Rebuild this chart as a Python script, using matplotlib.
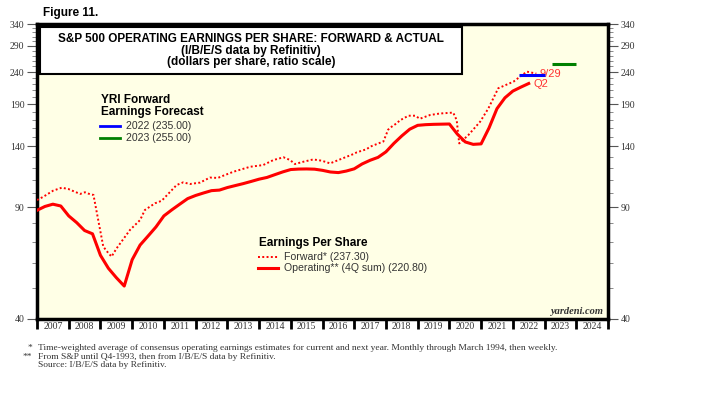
import numpy as np
import matplotlib
matplotlib.use("Agg")
import matplotlib.pyplot as plt
from matplotlib.lines import Line2D
from matplotlib.patches import Rectangle
from matplotlib.ticker import FixedLocator, FixedFormatter, NullFormatter

# operating EPS, 4Q trailing sum, quarterly (2006Q4 .. 2022Q2)
op_year = np.arange(2007.0, 2022.51, 0.25)
op_eps = [88, 90.5, 92, 90.8, 84.5, 80.5, 76, 74.2,
          63.5, 57.8, 54, 50.8, 61.5, 68.4, 73, 78,
          84.5, 88.3, 92, 95.8, 98, 99.8, 101.5, 101.9,
          103.8, 105.3, 106.8, 108.5, 110.3, 111.7, 114, 116.3,
          118.3, 118.7, 118.8, 118.6, 117.6, 116.2, 115.7, 117,
          118.9, 123.2, 126.5, 129.2, 134.5, 143, 151, 158.5,
          163, 163.8, 164.2, 164.4, 164.6, 153, 144.5, 142,
          142.5, 160, 184, 199, 209, 215, 220.8]

# forward EPS
fwd_year = [2007.00, 2007.20, 2007.51, 2007.78, 2007.99, 2008.14, 2008.36, 2008.51,
            2008.67, 2008.78, 2008.93, 2009.09, 2009.25, 2009.35, 2009.51, 2009.93,
            2010.25, 2010.40, 2010.72, 2010.93, 2011.40, 2011.61, 2011.82, 2012.14,
            2012.45, 2012.70, 2012.87, 2013.19, 2013.72, 2014.13, 2014.45, 2014.77,
            2014.98, 2015.13, 2015.40, 2015.71, 2015.98, 2016.24, 2016.55, 2016.97,
            2017.08, 2017.39, 2017.50, 2017.92, 2018.07, 2018.18, 2018.34, 2018.44,
            2018.71, 2018.92, 2019.07, 2019.39, 2019.70, 2020.12, 2020.23, 2020.31,
            2020.60, 2020.97, 2021.23, 2021.54, 2022.02, 2022.44, 2022.74]
fwd_eps = [94.8, 97.1, 101.5, 103.7, 102.7, 101.2, 99.1, 100.3,
           98.9, 98.4, 82, 67.6, 64.5, 62.9, 66.8, 76.3,
           82, 88.2, 92.6, 94.3, 105.7, 107.8, 106.5, 107.6,
           111.6, 111.3, 113.1, 116.4, 120.7, 122.2, 126.7, 129.3,
           126.7, 123.1, 125.2, 127.3, 126.1, 123.7, 127.3, 132.3,
           134, 137.1, 139.6, 145, 158, 161.4, 165.5, 169,
           174.8, 174.8, 171, 175.7, 177.6, 178.8, 169.3, 143,
           152, 167.4, 184.4, 213.3, 223.8, 240.7, 237.3]

# YRI forecasts
fc_2022 = 235.0
fc_2023 = 255.0

years = list(range(2007, 2025))
yticks = [40, 90, 140, 190, 240, 290, 340]

SANS = "Liberation Sans"
SERIF = "Liberation Serif"
W, H = 708, 400

fig = plt.figure(figsize=(7.08, 4.0), dpi=100)
ax = fig.add_axes([37 / W, 1 - 319 / H, (608 - 37) / W, (319 - 24) / H])
ax.set_facecolor("#ffffe6")


def px(x, y):
    return x / W, 1 - y / H


ax.plot(op_year, op_eps, color="red", lw=2.2, zorder=3)
ax.plot(fwd_year, fwd_eps, color="red", lw=1.4, ls=(0, (1, 1.2)), zorder=3)
ax.hlines(fc_2022, 2022.2, 2023.0, color="blue", lw=2.2, zorder=5)
ax.hlines(fc_2023, 2023.25, 2024.0, color="green", lw=2.2, zorder=5)
ax.text(2022.85, 237.3, "9/29", color="#ff3333", fontsize=8, family=SANS, va="center", zorder=4)
ax.text(2022.65, 220.8, "Q2", color="#ff3333", fontsize=8, family=SANS, va="center", zorder=4)

ax.set_yscale("log")
ax.set_ylim(40, 340)
ax.set_xlim(2007, 2025)

ax.yaxis.set_major_locator(FixedLocator(yticks))
ax.yaxis.set_minor_locator(FixedLocator([v for v in range(50, 340, 10) if v not in yticks]))
ax.yaxis.set_minor_formatter(NullFormatter())
ax.set_yticklabels([str(v) for v in yticks])
ax.tick_params(axis="y", which="major", length=7, width=0.8, color="#555555",
               labelsize=7, labelcolor="#333333", right=True, labelright=True, pad=2)
ax.tick_params(axis="y", which="minor", length=3.5, width=0.6, color="#777777", right=True)

ax.xaxis.set_major_locator(FixedLocator(years + [2025]))
ax.xaxis.set_major_formatter(NullFormatter())
ax.xaxis.set_minor_locator(FixedLocator([y + 0.5 for y in years]))
ax.xaxis.set_minor_formatter(FixedFormatter([str(y) for y in years]))
ax.tick_params(axis="x", which="major", length=7, width=2, color="black", top=False)
ax.tick_params(axis="x", which="minor", length=0, labelsize=7, labelcolor="#333333", pad=2)
for lab in ax.get_xticklabels(which="minor") + ax.get_yticklabels():
    lab.set_family(SERIF)

for s in ax.spines.values():
    s.set_linewidth(2.5)
    s.set_color("black")

# title box
fig.add_artist(Rectangle(px(40, 74), 422 / W, 47 / H, transform=fig.transFigure,
                         facecolor="white", edgecolor="black", lw=1.5, zorder=2))
fig.text(*px(251, 39), "S&P 500 OPERATING EARNINGS PER SHARE: FORWARD & ACTUAL",
         ha="center", va="center", fontsize=8.5, weight="bold", family=SANS, zorder=3)
fig.text(*px(251, 51), "(I/B/E/S data by Refinitiv)", ha="center", va="center",
         fontsize=8.5, weight="bold", family=SANS, zorder=3)
fig.text(*px(251, 62), "(dollars per share, ratio scale)", ha="center", va="center",
         fontsize=8.5, weight="bold", family=SANS, zorder=3)
fig.text(*px(43, 13), "Figure 11.", ha="left", va="center", fontsize=8.5,
         weight="bold", family=SANS)

# forecast legend
fig.text(*px(101, 100), "YRI Forward", fontsize=8.5, weight="bold", family=SANS, va="center")
fig.text(*px(101, 112), "Earnings Forecast", fontsize=8.5, weight="bold", family=SANS, va="center")
for yy, col, lab in [(126, "blue", "2022 (235.00)"), (138, "green", "2023 (255.00)")]:
    fig.add_artist(Line2D([100 / W, 120 / W], [1 - yy / H] * 2, color=col, lw=2,
                          transform=fig.transFigure))
    fig.text(*px(126, yy), lab, fontsize=7.6, color="#333333", family=SANS, va="center")

# EPS legend
fig.text(*px(259, 243), "Earnings Per Share", fontsize=8.5, weight="bold", family=SANS, va="center")
fig.add_artist(Line2D([258 / W, 278 / W], [1 - 257 / H] * 2, color="red", lw=1.4,
                      ls=(0, (1, 1.2)), transform=fig.transFigure))
fig.text(*px(284, 257), "Forward* (237.30)", fontsize=7.6, color="#333333", family=SANS, va="center")
fig.add_artist(Line2D([258 / W, 278 / W], [1 - 268 / H] * 2, color="red", lw=2.2,
                      transform=fig.transFigure))
fig.text(*px(284, 268), "Operating** (4Q sum) (220.80)", fontsize=7.6, color="#333333",
         family=SANS, va="center")

fig.text(*px(603, 312), "yardeni.com", ha="right", va="center", fontsize=7.5,
         style="italic", weight="bold", family=SERIF, color="#333333")

# footnotes
notes = [("*", "Time-weighted average of consensus operating earnings estimates for current and next year. Monthly through March 1994, then weekly."),
         ("**", "From S&P until Q4-1993, then from I/B/E/S data by Refinitiv."),
         ("", "Source: I/B/E/S data by Refinitiv.")]
for i, (mark, txt) in enumerate(notes):
    yy = 348 + i * 8.7
    fig.text(*px(32, yy), mark, ha="right", va="center", fontsize=6.8, family=SERIF, color="#333333")
    fig.text(*px(38, yy), txt, ha="left", va="center", fontsize=6.8, family=SERIF, color="#333333")

fig.savefig("out.png", dpi=100)
